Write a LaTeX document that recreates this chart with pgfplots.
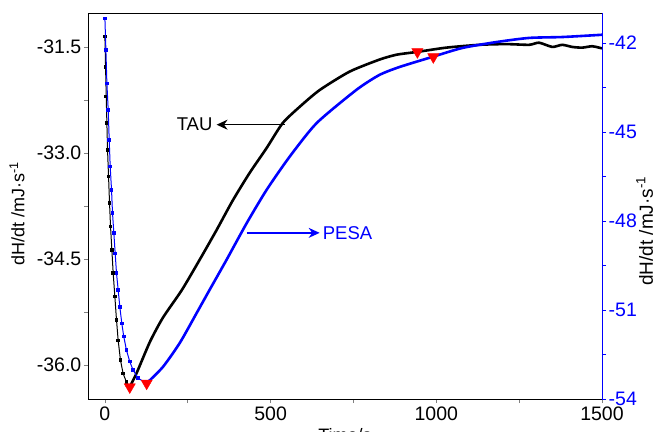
\documentclass[border=0pt]{standalone}
\usepackage{pgfplots}
\pgfplotsset{compat=1.18}
\usepackage{pgfplotstable}
\usepackage{fontspec}
\setmainfont{Liberation Sans}
\usetikzlibrary{arrows.meta}
\definecolor{pblue}{RGB}{0,0,255}
\definecolor{mred}{RGB}{255,0,0}

% TAU, left axis: steep drop (dotted look) and recovery
\pgfplotstableread{
t v
0 -31.35
2 -31.78
4 -32.20
6 -32.58
8 -32.96
11 -33.33
14 -33.71
17 -34.04
21 -34.37
25 -34.70
30 -35.03
35 -35.36
40 -35.65
47 -35.93
55 -36.12
65 -36.24
75 -36.31
}\taudrop
\pgfplotstableread{
t v
75 -36.31
96 -36.11
136 -35.67
175 -35.33
232 -34.94
286 -34.51
337 -34.09
386 -33.67
437 -33.28
488 -32.93
536 -32.58
587 -32.35
648 -32.11
738 -31.85
828 -31.68
880 -31.61
943 -31.57
1030 -31.51
1130 -31.47
1211 -31.46
1280 -31.47
1310 -31.44
1350 -31.50
1380 -31.47
1410 -31.50
1440 -31.51
1470 -31.49
1491 -31.51
1500 -31.52
}\taurise

% PESA, right axis
\pgfplotstableread{
t v
0 -41.17
3 -42.24
6 -43.36
10 -44.26
13 -45.27
16 -46.17
20 -46.95
23 -47.74
27 -48.41
31 -49.09
35 -49.76
40 -50.32
45 -50.89
51 -51.45
57 -51.90
65 -52.35
75 -52.74
85 -53.02
100 -53.30
126 -53.47
}\pesadrop
\pgfplotstableread{
t v
126 -53.47
175 -52.92
226 -52.11
277 -51.10
316 -50.32
367 -49.31
428 -48.07
488 -46.95
557 -45.84
639 -44.70
759 -43.58
828 -43.08
889 -42.81
988 -42.47
1078 -42.17
1181 -41.97
1280 -41.83
1380 -41.80
1491 -41.73
1500 -41.72
}\pesarise

\begin{document}
\begin{tikzpicture}
\pgfplotsset{
  every axis/.append style={
    scale only axis, width=514bp, height=386bp,
    xmin=-51, xmax=1500,
    tick align=outside,
    major tick length=4bp, minor tick length=4bp,
    tick style={line width=0.8bp},
    axis line style={line width=0.8bp},
    /pgf/number format/assume math mode=true,
    tick label style={font=\fontsize{19.5bp}{21bp}\selectfont},
    label style={font=\fontsize{18bp}{20bp}\selectfont},
  },
}
\begin{axis}[
  ymin=-36.48, ymax=-31.02,
  xtick={0,500,1000,1500}, minor xtick={250,750,1250},
  xticklabels={0,500,1000,1500},
  ytick={-36,-34.5,-33,-31.5}, minor ytick={-35.25,-33.75,-32.25},
  yticklabels={-36.0,-34.5,-33.0,-31.5},
  yticklabel style={inner sep=2.5bp},
  xticklabel style={inner sep=4bp},
  xtick pos=bottom, ytick pos=left,
  xlabel={Time/s},
  xlabel style={at={(axis description cs:0.5,-0.068)}, anchor=north},
  ylabel={dH/dt /mJ·s\textsuperscript{-1}},
  ylabel style={at={(axis description cs:-0.138,0.48)}, anchor=center},
  clip=false,
]
\addplot[black, line width=1bp, mark=square*, mark size=1.3bp] table[x=t,y=v] {\taudrop};
\addplot[black, line width=2.6bp, smooth, tension=0.4] table[x=t,y=v] {\taurise};
\addplot[only marks, mark=triangle*, mark size=6.5bp, mred,
  mark options={rotate=180, fill=mred, draw=mred}] coordinates {(75,-36.31) (943,-31.57)};
\draw[black, line width=1.6bp, -{Stealth[length=11bp,width=10bp]}]
  (axis cs:542,-32.60) -- (axis cs:337,-32.60);
\node[anchor=east, inner sep=0pt, font=\fontsize{18.5bp}{20bp}\selectfont]
  at (axis cs:325,-32.60) {TAU};
\draw[pblue, line width=1.6bp, -{Stealth[length=11bp,width=10bp]}]
  (axis cs:428,-34.13) -- (axis cs:648,-34.13);
\node[anchor=west, inner sep=0pt, text=pblue, font=\fontsize{18.5bp}{20bp}\selectfont]
  at (axis cs:657,-34.13) {PESA};
\end{axis}

\begin{axis}[
  ymin=-54, ymax=-40.99,
  axis y line*=right, axis x line=none,
  ytick={-54,-51,-48,-45,-42}, minor ytick={-52.5,-49.5,-46.5,-43.5},
  yticklabels={-54,-51,-48,-45,-42},
  y axis line style={pblue}, ytick style={pblue},
  yticklabel style={text=pblue, inner sep=2.5bp},
  ylabel={dH/dt /mJ·s\textsuperscript{-1}},
  ylabel style={at={(axis description cs:1.083,0.435)}, anchor=center, rotate=0,
    font=\fontsize{19bp}{21bp}\selectfont},
]
\addplot[pblue, line width=1bp, mark=square*, mark size=1.3bp] table[x=t,y=v] {\pesadrop};
\addplot[pblue, line width=2.6bp, smooth, tension=0.4] table[x=t,y=v] {\pesarise};
\addplot[only marks, mark=triangle*, mark size=6.5bp, mred,
  mark options={rotate=180, fill=mred, draw=mred}] coordinates {(126,-53.47) (991,-42.47)};
\end{axis}
\pgfresetboundingbox
\path (-88bp,-33bp) rectangle (570bp,399bp);
\end{tikzpicture}
\end{document}
